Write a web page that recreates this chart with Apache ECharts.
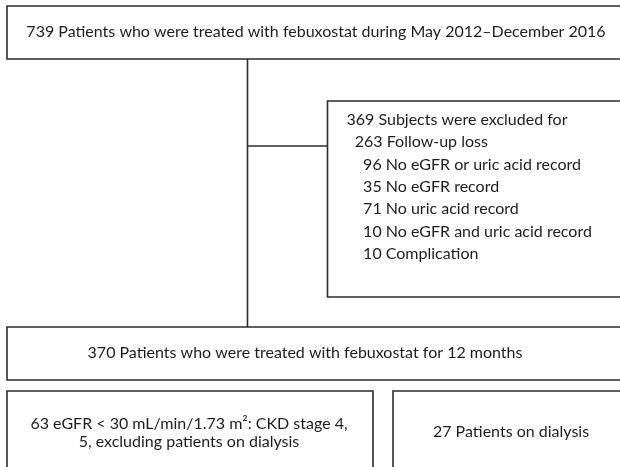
<!DOCTYPE html>
<html>
<head>
<meta charset="utf-8">
<script src="https://cdn.jsdelivr.net/npm/echarts@6/dist/echarts.min.js"></script>
<style>html,body{margin:0;padding:0;background:#fff}#c{width:620px;height:467px}</style>
</head>
<body>
<div id="c"></div>
<script>
// ---- content (text of each box) ----
const topLabel = ["739 Patients who were treated with febuxostat during May 2012\u2013December 2016"];
const excludedLabels = [
  "369 Subjects were excluded for",
  "263 Follow-up loss",
  "96 No eGFR or uric acid record",
  "35 No eGFR record",
  "71 No uric acid record",
  "10 No eGFR and uric acid record",
  "10 Complication"
];
const excludedLevels = [0, 1, 2, 2, 2, 2, 2];
const mainLabel = ["370 Patients who were treated with febuxostat for 12 months"];
const ckdLabel = ["63 eGFR < 30 mL/min/1.73 m\u00b2: CKD stage 4,", "5, excluding patients on dialysis"];
const dialysisLabel = ["27 Patients on dialysis"];

// ---- layout (in page pixel units, mapped through hidden value axes) ----
const boxes = [
  {rect: [7, 6, 640, 59],    lines: topLabel,      align: 'center', tx: 316, ty: 32, lh: 18},
  {rect: [327.5, 101, 640, 297], lines: excludedLabels, align: 'left', tx: 346.5, ty: 120, lh: 22.3, levels: excludedLevels},
  {rect: [7, 327, 640, 380], lines: mainLabel,     align: 'center', tx: 305, ty: 353, lh: 18},
  {rect: [7, 391, 373, 480], lines: ckdLabel,      align: 'center', tx: 189, ty: 424, lh: 17.5},
  {rect: [393, 391, 640, 480], lines: dialysisLabel, align: 'center', tx: 511, ty: 432, lh: 18}
];
const connectors = [
  [[247.5, 59], [247.5, 327]],
  [[247.5, 146], [327.5, 146]]
];
const indentStep = 8.3;

const FONT = 'Lato';
const STROKE = '#2b2b2b';
const TEXT = '#1c1c1c';

const chart = echarts.init(document.getElementById('c'), null, {renderer: 'canvas'});
chart.setOption({
  animation: false,
  grid: {left: 0, right: 0, top: 0, bottom: 0},
  xAxis: {type: 'value', min: 0, max: 620, show: false},
  yAxis: {type: 'value', min: 0, max: 467, inverse: true, show: false},
  series: [
    {
      type: 'custom',
      coordinateSystem: 'cartesian2d',
      clip: false,
      data: boxes.map((b, i) => [b.rect[0], b.rect[1], b.rect[2], b.rect[3], i]),
      renderItem: function (params, api) {
        const b = boxes[api.value(4)];
        const p0 = api.coord([api.value(0), api.value(1)]);
        const p1 = api.coord([api.value(2), api.value(3)]);
        const children = [{
          type: 'rect',
          shape: {x: p0[0], y: p0[1], width: p1[0] - p0[0], height: p1[1] - p0[1]},
          style: {fill: '#fff', stroke: STROKE, lineWidth: 1.6}
        }];
        b.lines.forEach((t, k) => {
          const lvl = b.levels ? b.levels[k] : 0;
          const pt = api.coord([b.tx + lvl * indentStep, b.ty + k * b.lh]);
          children.push({
            type: 'text',
            style: {
              text: t, x: pt[0], y: pt[1],
              fill: TEXT, fontSize: 16, fontFamily: FONT,
              align: b.align, verticalAlign: 'middle'
            }
          });
        });
        return {type: 'group', children: children};
      }
    },
    {
      type: 'lines',
      coordinateSystem: 'cartesian2d',
      polyline: true,
      silent: true,
      lineStyle: {color: STROKE, width: 1.6, opacity: 1},
      data: connectors.map(c => ({coords: c}))
    }
  ]
});
</script>
</body>
</html>
